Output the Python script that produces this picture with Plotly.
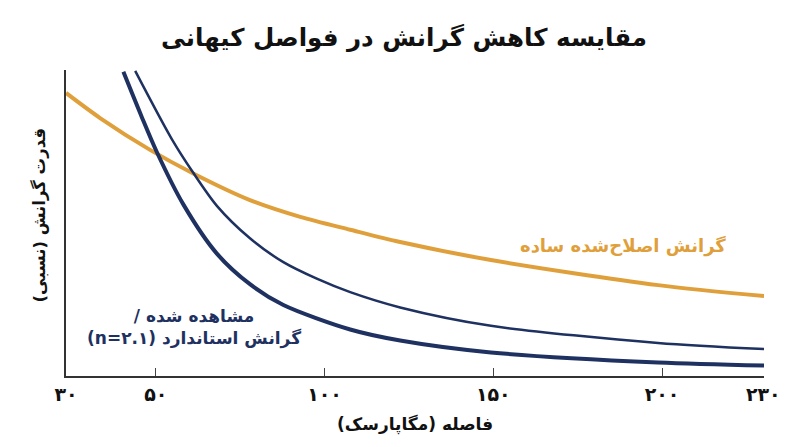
import plotly.graph_objects as go

RLE, PDF = "\u202b", "\u202c"

def rtl(s):
    # force right-to-left order inside the svg text
    return RLE + s + PDF

# distance (Mpc) and relative gravity strength
standard_x = [40.4, 45.9, 50.3, 58.2, 68.1, 77.9, 87.8, 107.6, 122.4, 149.3, 198.8, 230.2]
standard_y = [0.994, 0.845, 0.732, 0.560, 0.400, 0.300, 0.232, 0.152, 0.116, 0.077, 0.044, 0.034]

observed_x = [43.9, 54.7, 61.1, 68.1, 77.9, 87.8, 97.7, 107.6, 122.4, 149.3, 198.8, 230.2]
observed_y = [0.997, 0.775, 0.664, 0.556, 0.450, 0.372, 0.318, 0.274, 0.224, 0.164, 0.108, 0.088]

modified_x = [23.4, 33.5, 48.3, 61.1, 77.9, 92.8, 107.6, 122.4, 149.3, 198.8, 230.2]
modified_y = [0.925, 0.843, 0.739, 0.662, 0.575, 0.520, 0.478, 0.438, 0.379, 0.297, 0.261]

x_start, x_end = 23.4, 230.2
tick_vals = [x_start, 50, 100, 150, 200, 230]
tick_text = ["۳۰", "۵۰", "۱۰۰", "۱۵۰", "۲۰۰", "۲۳۰"]

ORANGE = "#DFA03C"
NAVY = "#1E3160"
FONT = "DejaVu Sans"

fig = go.Figure()
fig.add_trace(go.Scatter(x=modified_x, y=modified_y, mode="lines",
                         line=dict(color=ORANGE, width=4, shape="spline", smoothing=0.8)))
fig.add_trace(go.Scatter(x=observed_x, y=observed_y, mode="lines",
                         line=dict(color=NAVY, width=2.5, shape="spline", smoothing=0.8)))
fig.add_trace(go.Scatter(x=standard_x, y=standard_y, mode="lines",
                         line=dict(color=NAVY, width=4, shape="spline", smoothing=0.8)))

fig.add_annotation(x=219.6, y=0.424, xref="x", yref="y", xanchor="right",
                   text=rtl("گرانش اصلاح\u200cشده ساده"), showarrow=False,
                   font=dict(family=FONT, size=18, color=ORANGE, weight="bold"))
fig.add_annotation(x=61.3, y=0.158, xref="x", yref="y", align="center",
                   text=rtl("مشاهده شده /") + "<br>" + rtl("گرانش استاندارد (n=۲.۱)"),
                   showarrow=False,
                   font=dict(family=FONT, size=17, color=NAVY, weight="bold"))
fig.add_annotation(x=-0.056, y=0.526, xref="paper", yref="paper", textangle=-90,
                   text=rtl("قدرت گرانش (نسبی)"), showarrow=False,
                   font=dict(family=FONT, size=16.5, color="#111", weight="bold"))
fig.add_annotation(x=0.5, y=-0.16, xref="paper", yref="paper", yanchor="middle",
                   text=rtl("فاصله (مگاپارسک)"), showarrow=False,
                   font=dict(family=FONT, size=17, color="#111", weight="bold"))

# page body adds an 8px offset, so the figure is sized to fit inside it
fig.update_layout(
    width=792, height=439,
    paper_bgcolor="white", plot_bgcolor="white",
    showlegend=False,
    margin=dict(l=58, r=36, t=62, b=71),
    title=dict(text=rtl("مقایسه کاهش گرانش در فواصل کیهانی"), x=0.5, xanchor="center",
               y=0.932, yanchor="middle",
               font=dict(family=FONT, size=24.5, color="#111", weight="bold")),
    xaxis=dict(range=[x_start, x_end], tickvals=tick_vals, ticktext=tick_text,
               ticks="inside", ticklen=8, tickcolor="#444", showgrid=False,
               zeroline=False, showline=True, linecolor="#333", linewidth=1.5,
               tickfont=dict(family=FONT, size=19, color="#111", weight="bold")),
    yaxis=dict(range=[0, 1], showticklabels=False, ticks="", showgrid=False,
               zeroline=False, showline=True, linecolor="#333", linewidth=1.5),
)

fig.write_html("out.html")
